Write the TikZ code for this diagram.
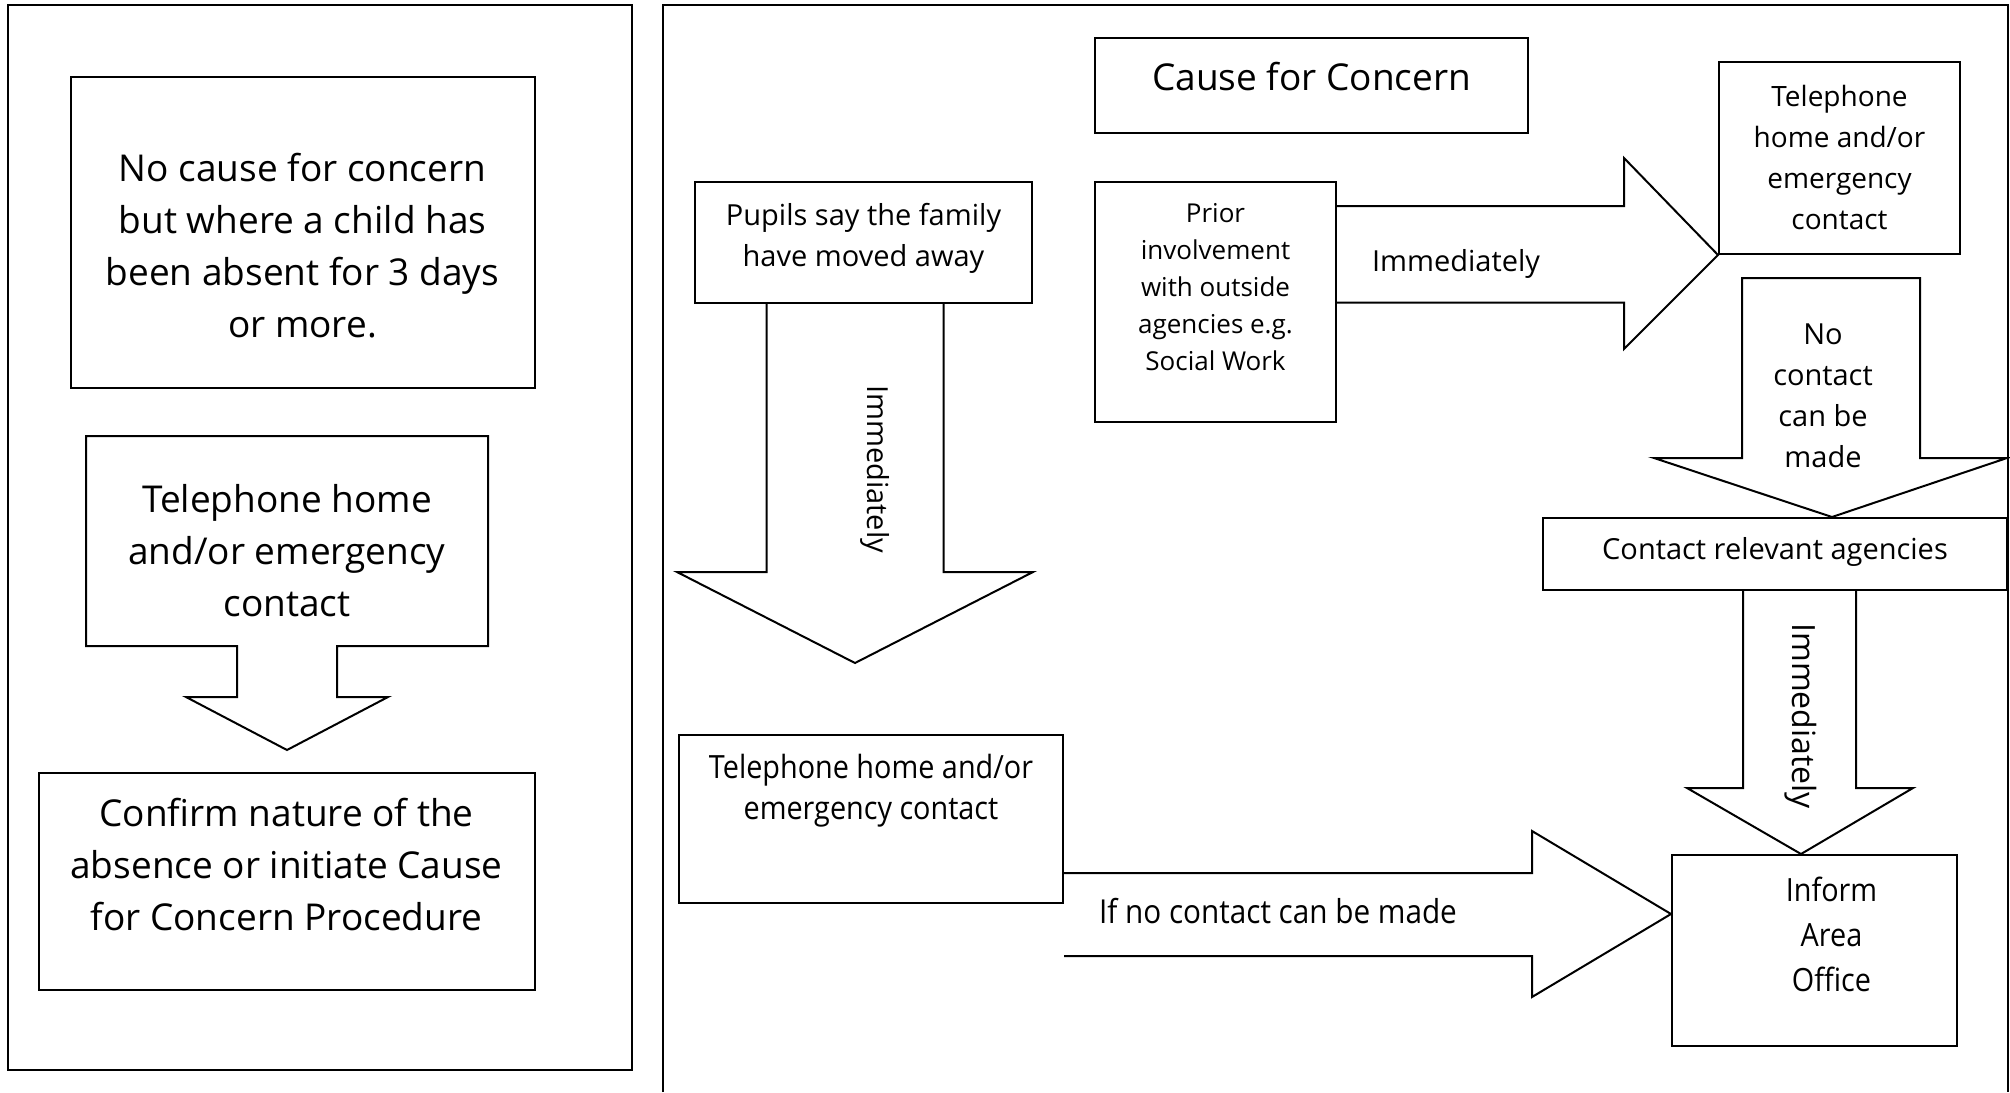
\documentclass[tikz,border=0pt]{standalone}
\usepackage{fontspec}
\setmainfont{Open Sans}
\newfontfamily\condfont[FakeStretch=0.9]{Open Sans}
\usetikzlibrary{calc}
\begin{document}
\begin{tikzpicture}[x=1pt,y=-1pt,line width=2pt,line join=miter,
  box/.style={draw,line width=2pt,inner sep=0pt},
  ghost/.style={inner sep=0pt},
  lbl/.style={align=center,inner sep=0pt},
  fbig/.style={font=\fontsize{37}{52}\selectfont},
  fmid/.style={font=\fontsize{29}{41}\selectfont},
  fsmall/.style={font=\fontsize{26}{37}\selectfont},
  fcond/.style={font=\condfont\fontsize{32}{41}\selectfont}]
\useasboundingbox (0,0) rectangle (2010,1092);
\fill[white] (0,0) rectangle (2010,1092);
% panels
\draw (7.7,5) rectangle (632,1070);
\draw (663,1092) -- (663,5) -- (2008,5) -- (2008,1092);
% ---------- left panel ----------
\node[box,minimum width=464pt,minimum height=311pt] (nocause) at (302.5,232.5) {};
\node[lbl,fbig] (nocauseT) at ($(nocause.center)+(0,13)$) {No cause for concern\\but where a child has\\been absent for 3 days\\or more.};
\node[ghost,minimum width=400pt,minimum height=208pt] (tel1) at (287,541) {};
\draw (tel1.north west) -- (tel1.north east) -- (tel1.south east)
  -- ($(tel1.south)+(50,0)$) -- ++(0,51) -- ++(51,0)
  -- ($(tel1.south)+(0,104)$) -- ($(tel1.south)+(-101,51)$) -- ++(51,0)
  -- ($(tel1.south)+(-50,0)$) -- (tel1.south west) -- cycle;
\node[lbl,fbig] (tel1T) at ($(tel1.center)+(0,10)$) {Telephone home\\and/or emergency\\contact};
\node[box,minimum width=496pt,minimum height=217pt] (confirm) at (286.5,881.5) {};
\node[lbl,fbig] (confirmT) at ($(confirm.center)+(0,-17)$) {Confirm nature of the\\absence or initiate Cause\\for Concern Procedure};
% ---------- right panel ----------
\node[box,minimum width=433pt,minimum height=95pt] (cfc) at (1311.5,85.5) {};
\node[lbl,fbig] (cfcT) at (1311.5,77) {Cause for Concern};
\node[box,minimum width=241pt,minimum height=240pt] (prior) at (1215.5,302) {};
\node[lbl,fsmall] (priorT) at ($(prior.center)+(0,-15)$) {Prior\\involvement\\with outside\\agencies e.g.\\Social Work};
\node[box,minimum width=241pt,minimum height=192.5pt] (telR) at (1839.5,157.75) {};
\node[lbl,font=\fontsize{28}{41}\selectfont] (telRT) at (telR.center) {Telephone\\home and/or\\emergency\\contact};
\node[box,minimum width=337pt,minimum height=120.5pt] (pupils) at (863.5,242.25) {};
\node[lbl,fmid] (pupilsT) at ($(pupils.center)+(0,-4)$) {Pupils say the family\\have moved away};
\node[box,minimum width=464pt,minimum height=72pt] (agencies) at (1775,554) {};
\node[lbl,fmid] (agenciesT) at ($(agencies.center)+(0,-2)$) {Contact relevant agencies};
\node[box,minimum width=384pt,minimum height=168pt] (telL) at (871,818.5) {};
\node[lbl,fcond] (telLT) at ($(telL.center)+(0,-28)$) {Telephone home and/or\\emergency contact};
\node[box,minimum width=285pt,minimum height=191pt] (inform) at (1814.5,950.5) {};
\node[lbl,font=\condfont\fontsize{32}{45}\selectfont] (informT) at ($(inform.center)+(17,-16)$) {Inform\\Area\\Office};
% ---------- block arrows ----------
% pupils -> down
\draw (766.5,0 |- pupils.south) -- (766.5,572) -- (677,572) -- (855,663)
  -- (1033,572) -- (943.5,572) -- (943.5,0 |- pupils.south);
\node[lbl,fmid,rotate=-90] (imm1) at (875.5,469) {Immediately};
% prior -> telephone
\draw (prior.east |- 0,206) -- (1624,206) -- (1624,158) -- (telR.south west)
  -- (1624,349) -- (1624,302.5) -- (prior.east |- 0,302.5);
\node[lbl,fmid] (imm0) at (1456,264) {Immediately};
% no contact -> agencies
\draw (1742,458) -- (1742,278) -- (1920,278) -- (1920,458) -- (2007,458)
  -- (1832,0 |- agencies.north) -- (1654,458) -- cycle;
\node[lbl,fmid] (nocT) at (1823,396) {No\\contact\\can be\\made};
% agencies -> inform
\draw (1743,0 |- agencies.south) -- (1743,788) -- (1687,788) -- (1801,0 |- inform.north)
  -- (1913,788) -- (1856,788) -- (1856,0 |- agencies.south);
\node[lbl,font=\fontsize{32}{41}\selectfont,rotate=-90] (imm2) at (1801,716) {Immediately};
% telL -> inform
\draw (telL.east |- 0,873) -- (1532,873) -- (1532,831) -- (inform.west |- 0,914)
  -- (1532,997) -- (1532,956) -- (telL.east |- 0,956);
\node[lbl,font=\condfont\fontsize{33}{41}\selectfont] (ifno) at (1278,911) {If no contact can be made};
\end{tikzpicture}
\end{document}
